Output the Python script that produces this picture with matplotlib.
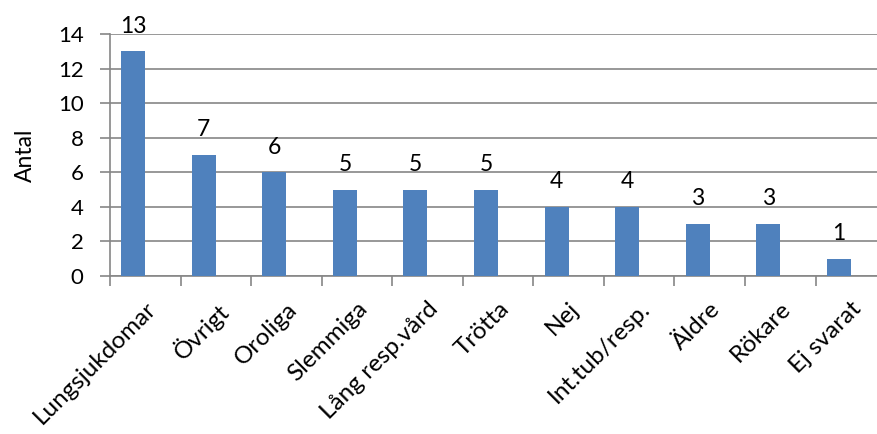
import numpy as np
import matplotlib.pyplot as plt
from matplotlib.ticker import FixedLocator

# data
categories = ['Lungsjukdomar', 'Övrigt', 'Oroliga', 'Slemmiga', 'Lång resp.vård',
              'Trötta', 'Nej', 'Int.tub/resp.', 'Äldre', 'Rökare', 'Ej svarat']
counts = [13, 7, 6, 5, 5, 5, 4, 4, 3, 3, 1]

plt.rcParams['font.family'] = ['Lato', 'DejaVu Sans']
grey = '#868686'

fig = plt.figure(figsize=(8.77, 4.34), dpi=100)
ax = fig.add_axes([0.1254, 0.364, 0.885, 0.5576])

x = np.arange(len(categories))
bw = 0.34
ax.bar(x - bw / 2, counts, width=bw, color='#4F81BD', zorder=3)

# value labels above bars
for xi, v in zip(x, counts):
    ax.text(xi - bw / 2, v + 0.85, str(v), ha='center', va='bottom', fontsize=16.5)

ax.set_xlim(-0.5, len(categories) - 0.5)
ax.set_ylim(0, 14)
ax.set_yticks(range(0, 15, 2))
ax.yaxis.grid(True, color=grey, linewidth=1.2, zorder=0)

ax.set_xticks(x)
ax.set_xticklabels(categories, rotation=45, ha='right', rotation_mode='anchor', fontsize=17.5)
ax.xaxis.set_minor_locator(FixedLocator(np.arange(-0.5, len(categories), 1)))
ax.tick_params(axis='x', which='major', length=0, pad=16)
ax.tick_params(axis='x', which='minor', length=7, color=grey, width=1.2)
ax.tick_params(axis='y', length=7, color=grey, width=1.2, labelsize=16, pad=12)

for s in ['top', 'right']:
    ax.spines[s].set_visible(False)
for s in ['left', 'bottom']:
    ax.spines[s].set_color(grey)
    ax.spines[s].set_linewidth(1.2)

ax.set_ylabel('Antal', fontsize=16.5, labelpad=16)

fig.savefig('out.png', dpi=100)
